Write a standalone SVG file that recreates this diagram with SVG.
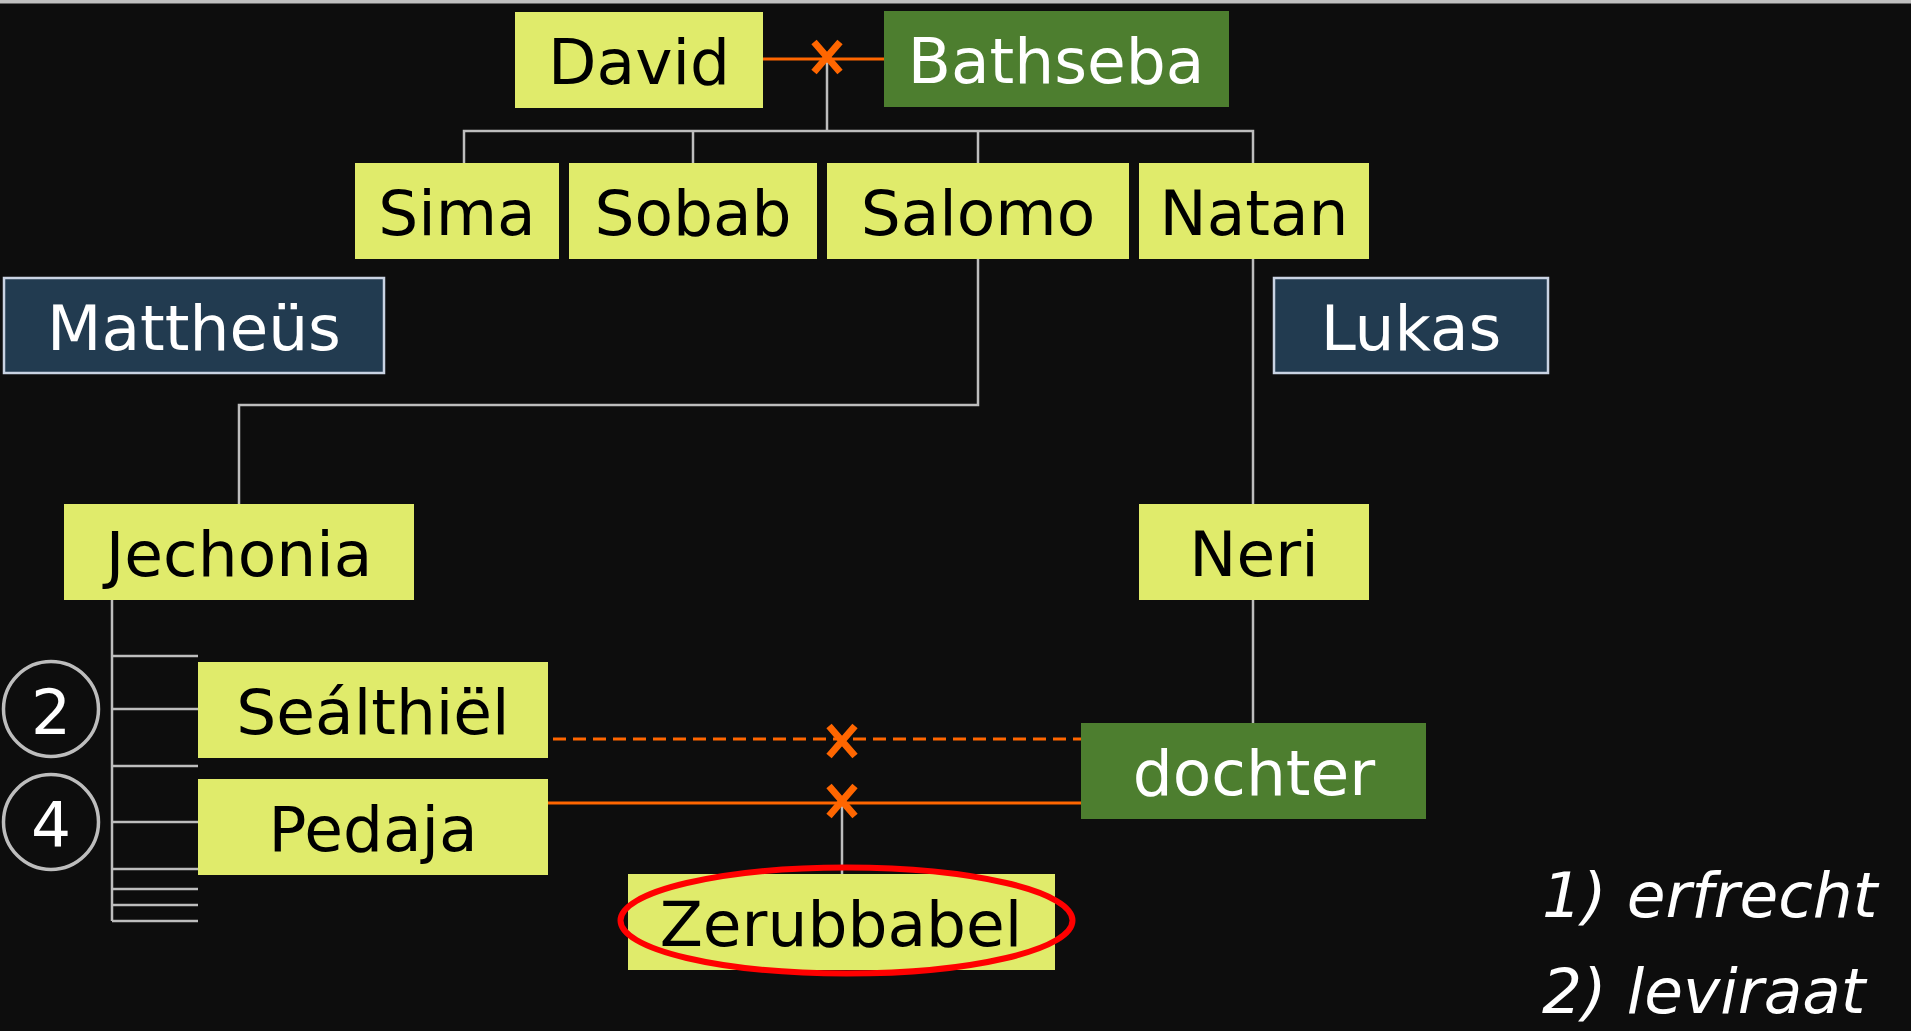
<svg xmlns="http://www.w3.org/2000/svg" width="1911" height="1031" viewBox="0 0 1911 1031">
<style>
.bg{fill:#0d0d0d}
.y{fill:#e0eb6b}
.g{fill:#4d7e2f}
.n{fill:#223b50;stroke:#c9d3e3;stroke-width:2.5}
.t{font-family:"DejaVu Sans",Verdana,sans-serif;font-size:63px;text-anchor:middle}
.dk{fill:#000}
.wt{fill:#fff}
.ln{stroke:#bdbdbd;stroke-width:2.5;fill:none}
.or{stroke:#ff6600;stroke-width:3;fill:none}
.leg{font-family:"DejaVu Sans",Verdana,sans-serif;font-style:italic;font-size:63px;fill:#fff}
</style>
<defs>
  <path id="cross" d="M-13,-15 L13,15 M13,-15 L-13,15" stroke="#ff6600" stroke-width="7" fill="none"/>
</defs>
<rect class="bg" x="0" y="0" width="1911" height="1031"/>
<rect x="0" y="0" width="1911" height="3.5" fill="#c0c0c0"/>

<g id="connectors">
  <line class="or" x1="763" y1="59" x2="884" y2="59"/>
  <polyline class="ln" points="827,59 827,131"/>
  <polyline class="ln" points="464,163 464,131 1253,131 1253,163"/>
  <line class="ln" x1="693" y1="131" x2="693" y2="163"/>
  <line class="ln" x1="978" y1="131" x2="978" y2="163"/>
  <polyline class="ln" points="978,259 978,405 239,405 239,504"/>
  <line class="ln" x1="1253" y1="259" x2="1253" y2="504"/>
  <line class="ln" x1="1253" y1="600" x2="1253" y2="723"/>
  <line class="ln" x1="112" y1="600" x2="112" y2="921"/>
  <line class="ln" x1="112" y1="656" x2="198" y2="656"/>
  <line class="ln" x1="112" y1="709" x2="198" y2="709"/>
  <line class="ln" x1="112" y1="766" x2="198" y2="766"/>
  <line class="ln" x1="112" y1="822" x2="198" y2="822"/>
  <line class="ln" x1="112" y1="869" x2="198" y2="869"/>
  <line class="ln" x1="112" y1="889" x2="198" y2="889"/>
  <line class="ln" x1="112" y1="905" x2="198" y2="905"/>
  <line class="ln" x1="112" y1="921" x2="198" y2="921"/>
  <line class="or" x1="553" y1="739" x2="1081" y2="739" stroke-dasharray="13 7"/>
  <line class="or" x1="548" y1="803" x2="1081" y2="803"/>
  <line class="ln" x1="842" y1="803" x2="842" y2="874"/>
  <use href="#cross" x="827" y="57"/>
  <use href="#cross" x="842" y="741"/>
  <use href="#cross" x="842" y="801"/>
</g>

<g id="david"><rect class="y" x="515" y="12" width="248" height="96"/><text class="t dk" x="639" y="84">David</text></g>
<g id="bathseba"><rect class="g" x="884" y="11" width="345" height="96"/><text class="t wt" x="1056" y="83">Bathseba</text></g>
<g id="sima"><rect class="y" x="355" y="163" width="204" height="96"/><text class="t dk" x="457" y="235">Sima</text></g>
<g id="sobab"><rect class="y" x="569" y="163" width="248" height="96"/><text class="t dk" x="693" y="235">Sobab</text></g>
<g id="salomo"><rect class="y" x="827" y="163" width="302" height="96"/><text class="t dk" x="978" y="235">Salomo</text></g>
<g id="natan"><rect class="y" x="1139" y="163" width="230" height="96"/><text class="t dk" x="1254" y="235">Natan</text></g>
<g id="mattheus"><rect class="n" x="4" y="278" width="380" height="95"/><text class="t wt" x="194" y="350">Mattheüs</text></g>
<g id="lukas"><rect class="n" x="1274" y="278" width="274" height="95"/><text class="t wt" x="1411" y="350">Lukas</text></g>
<g id="jechonia"><rect class="y" x="64" y="504" width="350" height="96"/><text class="t dk" x="239" y="576">Jechonia</text></g>
<g id="neri"><rect class="y" x="1139" y="504" width="230" height="96"/><text class="t dk" x="1254" y="576">Neri</text></g>
<g id="sealthiel"><rect class="y" x="198" y="662" width="350" height="96"/><text class="t dk" x="373" y="734">Seálthiël</text></g>
<g id="pedaja"><rect class="y" x="198" y="779" width="350" height="96"/><text class="t dk" x="373" y="851">Pedaja</text></g>
<g id="dochter"><rect class="g" x="1081" y="723" width="345" height="96"/><text class="t wt" x="1254" y="795">dochter</text></g>
<g id="zerubbabel"><rect class="y" x="628" y="874" width="427" height="96"/><text class="t dk" x="841" y="946">Zerubbabel</text>
  <ellipse cx="846.5" cy="920.5" rx="226" ry="53" fill="none" stroke="#ff0000" stroke-width="6"/></g>
<g id="circle2"><circle cx="51" cy="709" r="47.5" fill="none" stroke="#bdbdbd" stroke-width="3.5"/><text class="t wt" x="51" y="734">2</text></g>
<g id="circle4"><circle cx="51" cy="822" r="47.5" fill="none" stroke="#bdbdbd" stroke-width="3.5"/><text class="t wt" x="51" y="847">4</text></g>
<g id="legend">
  <text class="leg" x="1542" y="917">1) erfrecht</text>
  <text class="leg" x="1542" y="1013">2) leviraat</text>
</g>
</svg>
